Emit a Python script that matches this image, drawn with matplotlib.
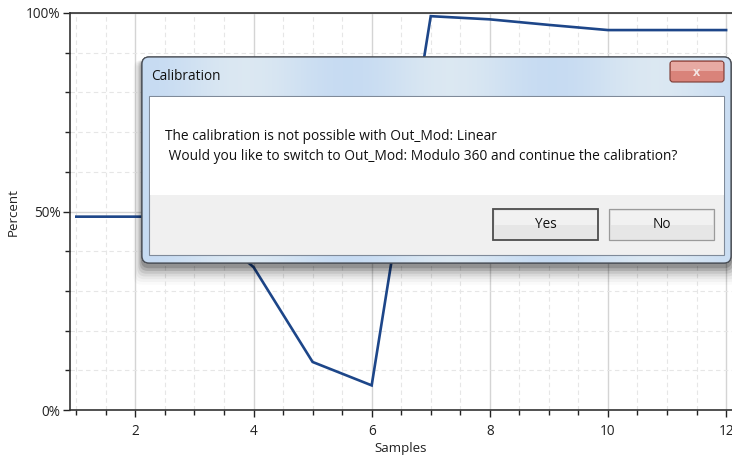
import numpy as np
import matplotlib
matplotlib.use("Agg")
import matplotlib.pyplot as plt
from matplotlib.patches import Rectangle, FancyBboxPatch
from matplotlib.ticker import MultipleLocator, FixedLocator

# chart data
samples = [1, 2, 3, 4, 5, 6, 7, 8, 9, 10, 11, 12]
percent = [48.7, 48.7, 48.7, 36.0, 12.1, 6.2, 99.2, 98.4, 97.0, 95.7, 95.7, 95.7]
ytick_vals = [0, 50, 100]
ytick_labels = ["0%", "50%", "100%"]
xtick_vals = [2, 4, 6, 8, 10, 12]

dialog_title = "Calibration"
dialog_lines = ["The calibration is not possible with Out_Mod: Linear",
                " Would you like to switch to Out_Mod: Modulo 360 and continue the calibration?"]
button_labels = ["Yes", "No"]

W, H = 732, 462
plt.rcParams['font.family'] = ['Open Sans', 'DejaVu Sans']

fig = plt.figure(figsize=(W / 100, H / 100), dpi=100)
ax = fig.add_axes([70 / W, 52 / H, 662 / W, 397 / H])

ax.plot(samples, percent, color='#1d4689', lw=1.9, solid_joinstyle='miter', zorder=3)
ax.set_xlim(0.893, 12.1)
ax.set_ylim(0, 100)

ax.xaxis.set_major_locator(FixedLocator(xtick_vals))
ax.xaxis.set_minor_locator(MultipleLocator(0.5))
ax.yaxis.set_major_locator(FixedLocator(ytick_vals))
ax.set_yticklabels(ytick_labels)
ax.yaxis.set_minor_locator(MultipleLocator(10))

ax.grid(True, which='major', color='#d4d4d4', lw=1.0, ls='-')
ax.grid(True, which='minor', color='#e6e6e6', lw=0.8, ls=(0, (4, 3)))
ax.set_axisbelow(True)

ax.tick_params(which='major', direction='out', length=5, width=1, color='#222222',
               labelsize=9.8, labelcolor='#222222', pad=2)
ax.tick_params(which='minor', direction='out', length=3.5, width=1, color='#222222')
ax.tick_params(axis='x', which='major', pad=5)

for side in ['left', 'bottom', 'top']:
    ax.spines[side].set_color('#333333')
    ax.spines[side].set_linewidth(1.2)
ax.spines['right'].set_visible(False)

ax.set_xlabel("Samples", fontsize=9.6, color='#222222', labelpad=2)
ax.set_ylabel("Percent", fontsize=9.6, color='#222222', labelpad=4)

# --- dialog overlay in pixel coordinates ---
ov = fig.add_axes([0, 0, 1, 1], zorder=10)
ov.set_xlim(0, W)
ov.set_ylim(H, 0)
ov.axis('off')
ov.patch.set_alpha(0)

x0, y0, x1, y1 = 142, 57, 731, 263
# drop shadow, heavier below the window
for i, a in enumerate([0.16, 0.12, 0.09, 0.06, 0.04, 0.03, 0.02]):
    d = 2 + i * 2.5
    ov.add_patch(FancyBboxPatch((x0 - d * 0.5, y0 + 3), x1 - x0 + d, y1 - y0 + d * 1.1,
                                boxstyle="round,pad=0,rounding_size=8",
                                fc='black', ec='none', alpha=a))

# glass frame
grad = np.linspace(0, 1, 200)
frame = np.zeros((1, 200, 3))
frame[0, :, 0] = 0.78 + 0.08 * np.sin(grad * 9) ** 2
frame[0, :, 1] = 0.86 + 0.05 * np.sin(grad * 9) ** 2
frame[0, :, 2] = 0.95
fb = FancyBboxPatch((x0, y0), x1 - x0, y1 - y0, boxstyle="round,pad=0,rounding_size=7",
                    fc='#cfe1f4', ec='#4a4f57', lw=0.9)
ov.add_patch(fb)
im = ov.imshow(frame, extent=(x0, x1, y1, y0), aspect='auto', zorder=2)
im.set_clip_path(fb)
ov.add_patch(FancyBboxPatch((x0, y0), x1 - x0, y1 - y0, boxstyle="round,pad=0,rounding_size=7",
                            fc='none', ec='#4a4f57', lw=0.9, zorder=3))

ov.text(151, 77, dialog_title, fontsize=9.8, color='#111111', va='center', ha='left', zorder=4)

# close button
ov.add_patch(FancyBboxPatch((670, 61), 54, 21, boxstyle="round,pad=0,rounding_size=3",
                            fc='#d9837a', ec='#7c3a33', lw=0.8, zorder=4))
ov.add_patch(Rectangle((671, 62), 52, 9, fc='#e7aaa3', ec='none', zorder=4))
ov.text(697, 72, "x", fontsize=9, color='#f4e4e2', ha='center', va='center',
        fontweight='bold', zorder=5)

# client area
ov.add_patch(Rectangle((149, 96), 575, 159, fc='#f0f0f0', ec='#7f8a99', lw=0.8, zorder=4))
ov.add_patch(Rectangle((149.5, 96.5), 574, 98.5, fc='white', ec='none', zorder=4))

ov.text(165, 137, dialog_lines[0], fontsize=9.9, color='#111111', va='center', ha='left', zorder=5)
ov.text(165, 156, dialog_lines[1], fontsize=9.9, color='#111111', va='center', ha='left', zorder=5)

# buttons
for (bx, label, edge, elw) in [(493, button_labels[0], '#4d4d4d', 1.3), (609, button_labels[1], '#9a9a9a', 0.9)]:
    ov.add_patch(Rectangle((bx, 209), 105, 31, fc='#e6e6e6', ec=edge, lw=elw, zorder=5))
    ov.add_patch(Rectangle((bx + 1.5, 210.5), 102, 14, fc='#f1f1f1', ec='none', zorder=5))
    ov.text(bx + 52.5, 225, label, fontsize=9.8, color='#111111', ha='center', va='center', zorder=6)

fig.savefig("out.png", dpi=100)
